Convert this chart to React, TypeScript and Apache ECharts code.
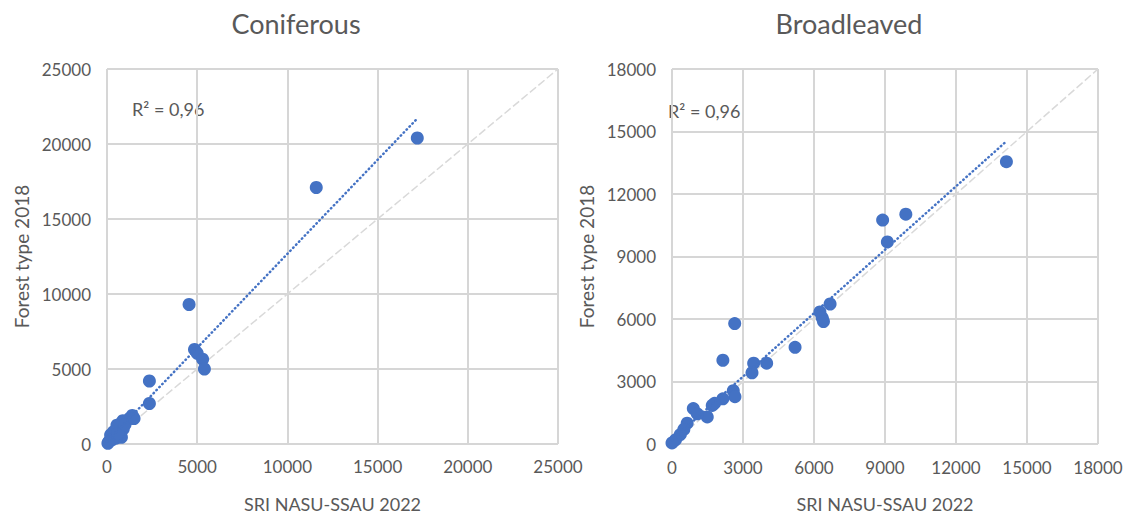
import React, { useEffect, useRef } from "react";
import * as echarts from "echarts";

const coniferousPoints: [number, number][] = [
  [17200, 20400], [11600, 17100], [4550, 9300], [4850, 6300], [5000, 6050],
  [5300, 5650], [5400, 5000], [2350, 4200], [2350, 2700], [1400, 1900],
  [1250, 1700], [880, 1550], [800, 1400], [550, 1250], [900, 1000],
  [700, 800], [350, 800], [200, 600], [800, 450], [500, 400],
  [300, 300], [100, 150], [50, 50], [600, 700], [1000, 1300], [1500, 1700],
];
const broadleavedPoints: [number, number][] = [
  [14130, 13550], [9880, 11030], [8900, 10750], [9100, 9700], [6680, 6720],
  [6250, 6340], [6350, 6050], [6400, 5880], [2650, 5780], [2150, 4020],
  [5200, 4640], [4000, 3880], [3450, 3880], [3380, 3420], [2590, 2560],
  [2660, 2270], [2150, 2170], [1700, 1850], [1800, 1950], [1490, 1300],
  [900, 1700], [1070, 1450], [640, 1000], [500, 700], [350, 450],
  [150, 200], [0, 50],
];
const coniferousTrend: [number, number][] = [[0, 150], [17200, 21700]];
const broadleavedTrend: [number, number][] = [[0, 190], [14130, 14530]];
const coniferousAxis = { min: 0, max: 25000, interval: 5000 };
const broadleavedAxis = { min: 0, max: 18000, interval: 3000 };
const titles = ["Coniferous", "Broadleaved"];
const xName = "SRI NASU-SSAU 2022";
const yName = "Forest type 2018";
const r2Labels = ["R² = 0,96", "R² = 0,96"];

const FONT = "Lato, 'Liberation Sans', sans-serif";
const TXT = "#595959";
const GRIDC = "#d6d6d6";
const BLUE = "#4472C4";

export default function App() {
  const ref = useRef<HTMLDivElement>(null);
  useEffect(() => {
    if (!ref.current) return;
    const chart = echarts.init(ref.current, null, { renderer: "svg" });
    const mkAxis = (ax: any, gridIndex: number, isX: boolean, margin: number) => ({
      type: "value",
      gridIndex,
      min: ax.min,
      max: ax.max,
      interval: ax.interval,
      name: isX ? xName : yName,
      nameLocation: "middle",
      nameGap: isX ? 51 : 76,
      nameTextStyle: { fontFamily: FONT, fontSize: isX ? 18 : 19, color: TXT },
      axisLine: { show: false },
      axisTick: { show: false },
      axisLabel: {
        fontFamily: FONT, fontSize: 17, color: TXT, margin,
        formatter: (v: number) => String(v),
      },
      splitLine: { show: true, lineStyle: { color: GRIDC, width: 2 } },
    });
    const scatter = (data: [number, number][], i: number) => ({
      type: "scatter",
      xAxisIndex: i,
      yAxisIndex: i,
      data,
      symbolSize: 13,
      itemStyle: { color: BLUE, opacity: 1 },
      z: 3,
    });
    const trend = (data: [number, number][], i: number) => ({
      type: "line",
      xAxisIndex: i,
      yAxisIndex: i,
      data,
      symbol: "none",
      lineStyle: { color: BLUE, width: 2.5, type: [0.5, 3.7], cap: "round" },
      z: 4,
    });
    const diag = (ax: any, i: number) => ({
      type: "line",
      xAxisIndex: i,
      yAxisIndex: i,
      data: [[ax.min, ax.min], [ax.max, ax.max]],
      symbol: "none",
      lineStyle: { color: "#d9d9d9", width: 1.5, type: [8, 3] },
      z: 2,
    });
    const titleStyle = { fontFamily: FONT, fontSize: 27, fontWeight: "normal", color: TXT };
    chart.setOption({
      animation: false,
      title: [
        { text: titles[0], left: 291, top: 5, textAlign: "center", textStyle: titleStyle },
        { text: titles[1], left: 844, top: 5, textAlign: "center", textStyle: titleStyle },
      ],
      grid: [
        { left: 107, right: 570, top: 69, bottom: 69 },
        { left: 672, right: 30, top: 69, bottom: 69 },
      ],
      xAxis: [mkAxis(coniferousAxis, 0, true, 14), mkAxis(broadleavedAxis, 1, true, 15)],
      yAxis: [mkAxis(coniferousAxis, 0, false, 16), mkAxis(broadleavedAxis, 1, false, 16)],
      graphic: [
        { type: "text", left: 132, top: 100, style: { text: r2Labels[0], font: `18px ${FONT}`, fill: TXT } },
        { type: "text", left: 668, top: 102, style: { text: r2Labels[1], font: `18px ${FONT}`, fill: TXT } },
      ],
      series: [
        diag(coniferousAxis, 0),
        scatter(coniferousPoints, 0),
        trend(coniferousTrend, 0),
        diag(broadleavedAxis, 1),
        scatter(broadleavedPoints, 1),
        trend(broadleavedTrend, 1),
      ],
    });
    return () => chart.dispose();
  }, []);
  return (
    <div
      ref={ref}
      style={{ position: "fixed", left: 0, top: 0, width: 1128, height: 518, background: "#fff" }}
    />
  );
}
